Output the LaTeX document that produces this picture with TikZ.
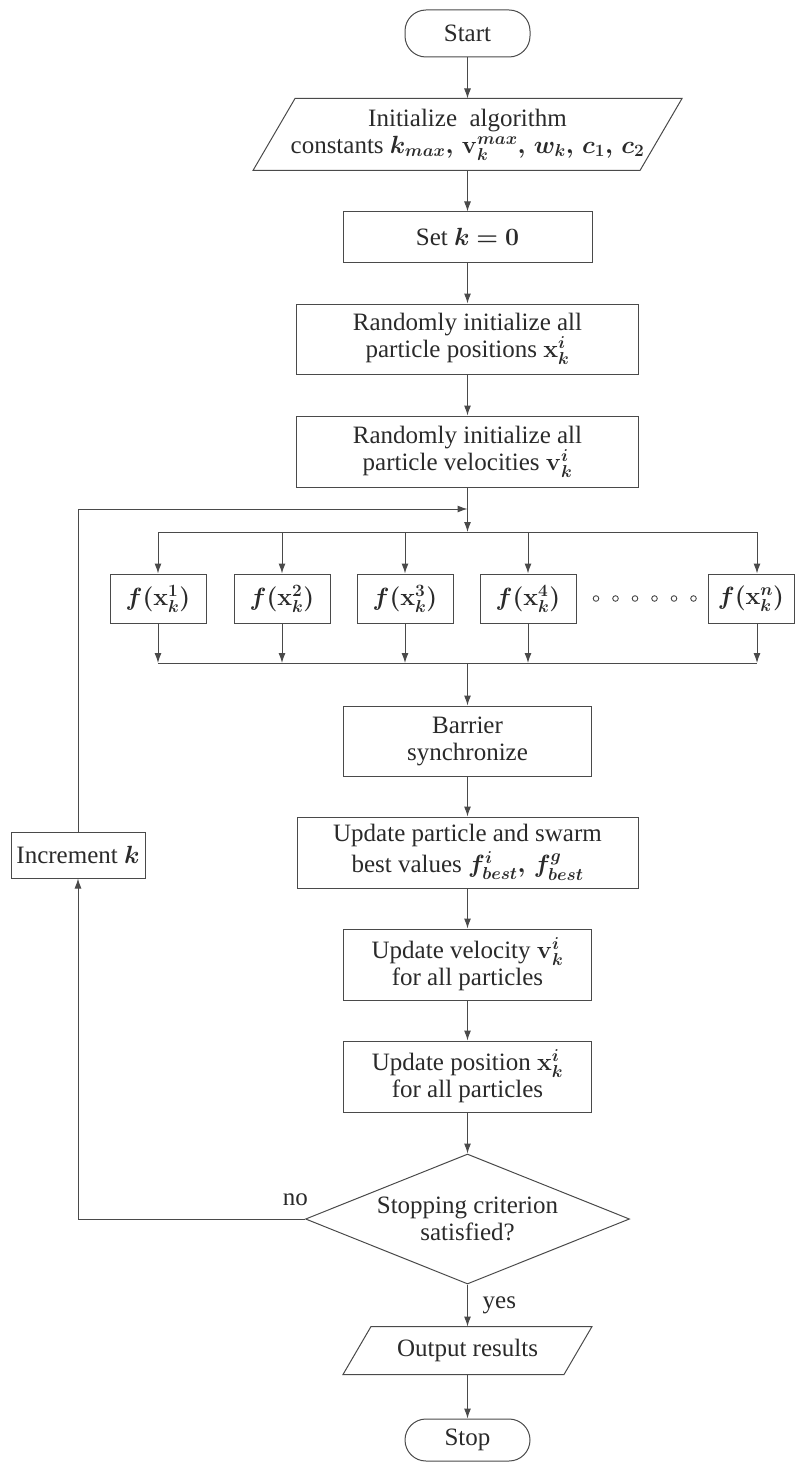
\documentclass[tikz,border=0pt]{standalone}
\usepackage{fontspec}
\setmainfont{Liberation Serif}
\usepackage{amsmath}
\usepackage{bm}
\usetikzlibrary{shapes.geometric,arrows.meta,calc}
\definecolor{lncol}{HTML}{4A4A4A}
\definecolor{txtcol}{HTML}{2A2A2A}
\begin{document}
\begin{tikzpicture}[x=1pt,y=-1pt,
  every node/.style={font=\fontsize{25}{27}\selectfont, text=txtcol},
  box/.style={draw=lncol, line width=1pt, rectangle, inner sep=0pt, align=center},
  pill/.style={draw=lncol, line width=1pt, rectangle, rounded corners=21pt, inner sep=0pt},
  fbox/.style={box, minimum width=96pt, minimum height=49pt},
  conn/.style={draw=lncol, line width=1pt},
  arr/.style={conn, -{Latex[length=10pt,width=7pt]}},
  lbl/.style={inner sep=0pt}
]
\useasboundingbox (0,0) rectangle (795,1463);

% nodes
\node[pill, minimum width=125pt, minimum height=47pt] (start) at (467.5,33.5) {Start};
\node[box, draw=none, minimum width=386pt, minimum height=71pt] (init) at (467.5,134.5)
  {Initialize\enspace algorithm\\constants $\bm{k_{max},\, \mathbf{v}_k^{max},\, w_k,\, c_1,\, c_2}$};
\draw[conn] ([xshift=21pt]init.north west) -- ([xshift=21pt]init.north east)
  -- ([xshift=-21pt]init.south east) -- ([xshift=-21pt]init.south west) -- cycle;
\node[box, minimum width=249pt, minimum height=50pt] (setk) at (467.5,237) {Set $\bm{k=0}$};
\node[box, minimum width=342pt, minimum height=70pt] (pos) at (467.5,339)
  {Randomly initialize all\\particle positions $\bm{\mathbf{x}_k^i}$};
\node[box, minimum width=342pt, minimum height=71pt] (vel) at (467.5,451.5)
  {Randomly initialize all\\particle velocities $\bm{\mathbf{v}_k^i}$};

\coordinate (fb) at (467.5,509);
\coordinate (jt) at (467.5,532);
\coordinate (jb) at (467.5,663);
\coordinate (lc) at (78,509);

\node[fbox] (f1) at (158,598.5) {$\bm{f(\mathbf{x}_k^1)}$};
\node[fbox] (f2) at (282,598.5) {$\bm{f(\mathbf{x}_k^2)}$};
\node[fbox] (f3) at (405,598.5) {$\bm{f(\mathbf{x}_k^3)}$};
\node[fbox] (f4) at (528,598.5) {$\bm{f(\mathbf{x}_k^4)}$};
\node[box, minimum width=86pt, minimum height=49pt] (fn) at (751,598.5) {$\bm{f(\mathbf{x}_k^n)}$};
\foreach \i in {0,...,5} \draw[conn, line width=0.9pt] (596+19.5*\i,598.5) circle (2.8pt);

\coordinate (tn) at (757,532);
\coordinate (bn) at (757,663);
\coordinate (t1) at (158,532);
\coordinate (b1) at (158,663);

\node[box, minimum width=248pt, minimum height=70pt] (bar) at (467.5,741) {Barrier\\synchronize};
\node[box, minimum width=341pt, minimum height=71pt] (upd) at (467.5,852.5)
  {Update particle and swarm\\[4pt]best values $\bm{f_{best}^i,\, f_{best}^g}$};
\node[box, minimum width=248pt, minimum height=71pt] (updv) at (467.5,964.5)
  {Update velocity $\bm{\mathbf{v}_k^i}$\\for all particles};
\node[box, minimum width=248pt, minimum height=71pt] (updx) at (467.5,1076.5)
  {Update position $\bm{\mathbf{x}_k^i}$\\for all particles};
\node[draw=lncol, line width=1pt, diamond, aspect=2.5, inner sep=0pt, align=center,
  minimum width=324pt, minimum height=130pt] (dia) at (467.5,1219)
  {Stopping criterion\\satisfied?};
\node[box, draw=none, minimum width=220pt, minimum height=47pt] (out) at (467.5,1350.5) {Output results};
\draw[conn] ([xshift=14pt]out.north west) -- ([xshift=14pt]out.north east)
  -- ([xshift=-14pt]out.south east) -- ([xshift=-14pt]out.south west) -- cycle;
\node[pill, minimum width=125pt, minimum height=42pt] (stop) at (467.5,1440) {Stop};

\node[box, minimum width=134pt, minimum height=46pt] (inc) at (78,855) {Increment $\bm{k}$};
\coordinate (ld) at (78,1219);

% connectors
\draw[arr] (start) -- (init);
\draw[arr] (init) -- (setk);
\draw[arr] (setk) -- (pos);
\draw[arr] (pos) -- (vel);
\draw[arr] (vel) -- (jt);
\draw[conn] (t1) -- (tn);
\draw[conn] (b1) -- (bn);
\foreach \n in {f1,f2,f3,f4} {
  \draw[arr] (\n |- jt) -- (\n.north);
  \draw[arr] (\n.south) -- (\n |- jb);
}
\draw[arr] (tn) -- (tn |- fn.north);
\draw[arr] (tn |- fn.south) -- (bn);
\draw[arr] (jb) -- (bar);
\draw[arr] (bar) -- (upd);
\draw[arr] (upd) -- (updv);
\draw[arr] (updv) -- (updx);
\draw[arr] (updx) -- (dia.north);
\draw[arr] (dia.south) -- (out);
\draw[arr] (out) -- (stop);
\draw[arr] (dia.west) -- (ld) -- (inc.south);
\draw[arr] (inc.north) -- (lc) -- (fb);

\node[lbl, anchor=south east] (no) at ($(dia.west)+(3,-13)$) {no};
\node[lbl, anchor=base west] (yes) at ($(dia.south)+(15,24)$) {yes};
\end{tikzpicture}
\end{document}
